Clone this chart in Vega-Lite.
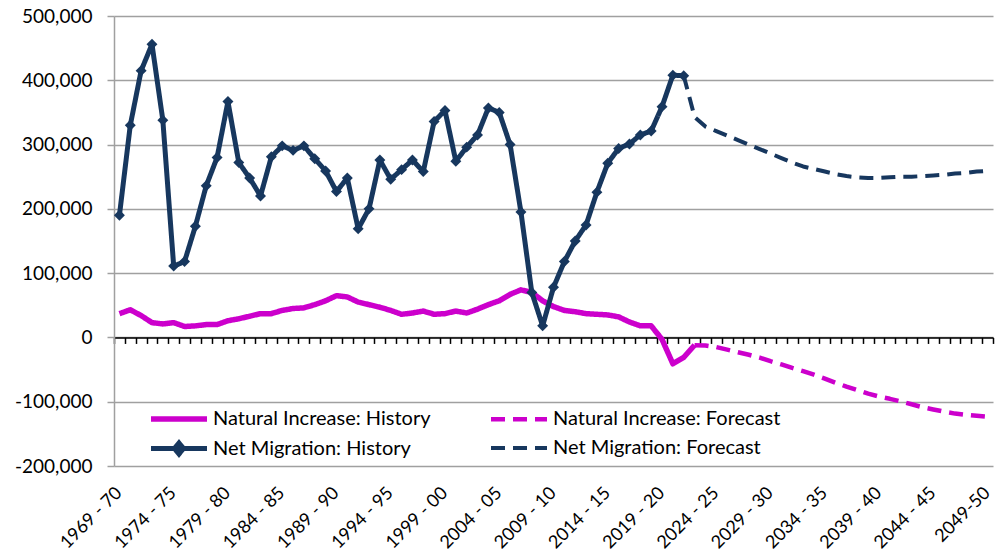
{
  "$schema": "https://vega.github.io/schema/vega-lite/v6.json",
  "autosize": {"type": "none"},
  "width": 879,
  "height": 450,
  "padding": {"left": 114, "top": 16, "right": 10, "bottom": 88},
  "background": "white",
  "config": {
    "font": "Lato",
    "view": {"stroke": null},
    "axisY": {
      "labelFont": "Lato", "labelFontSize": 19, "labelColor": "#000000",
      "labelPadding": 15, "tickSize": 7, "tickColor": "#A0A0A0", "tickWidth": 1.5,
      "domainColor": "#A0A0A0", "domainWidth": 1.5,
      "gridColor": "#A0A0A0", "gridWidth": 1.5
    }
  },
  "data": {"values": [
    {"p":"1969 - 70","s":"Natural Increase: History","v":37000},
    {"p":"1970 - 71","s":"Natural Increase: History","v":43000},
    {"p":"1971 - 72","s":"Natural Increase: History","v":34000},
    {"p":"1972 - 73","s":"Natural Increase: History","v":23000},
    {"p":"1973 - 74","s":"Natural Increase: History","v":21000},
    {"p":"1974 - 75","s":"Natural Increase: History","v":23000},
    {"p":"1975 - 76","s":"Natural Increase: History","v":17000},
    {"p":"1976 - 77","s":"Natural Increase: History","v":18000},
    {"p":"1977 - 78","s":"Natural Increase: History","v":20000},
    {"p":"1978 - 79","s":"Natural Increase: History","v":20000},
    {"p":"1979 - 80","s":"Natural Increase: History","v":26000},
    {"p":"1980 - 81","s":"Natural Increase: History","v":29000},
    {"p":"1981 - 82","s":"Natural Increase: History","v":33000},
    {"p":"1982 - 83","s":"Natural Increase: History","v":37000},
    {"p":"1983 - 84","s":"Natural Increase: History","v":37000},
    {"p":"1984 - 85","s":"Natural Increase: History","v":42000},
    {"p":"1985 - 86","s":"Natural Increase: History","v":45000},
    {"p":"1986 - 87","s":"Natural Increase: History","v":46000},
    {"p":"1987 - 88","s":"Natural Increase: History","v":51000},
    {"p":"1988 - 89","s":"Natural Increase: History","v":57000},
    {"p":"1989 - 90","s":"Natural Increase: History","v":65000},
    {"p":"1990 - 91","s":"Natural Increase: History","v":63000},
    {"p":"1991 - 92","s":"Natural Increase: History","v":55000},
    {"p":"1992 - 93","s":"Natural Increase: History","v":51000},
    {"p":"1993 - 94","s":"Natural Increase: History","v":47000},
    {"p":"1994 - 95","s":"Natural Increase: History","v":42000},
    {"p":"1995 - 96","s":"Natural Increase: History","v":36000},
    {"p":"1996 - 97","s":"Natural Increase: History","v":38000},
    {"p":"1997 - 98","s":"Natural Increase: History","v":41000},
    {"p":"1998 - 99","s":"Natural Increase: History","v":36000},
    {"p":"1999 - 00","s":"Natural Increase: History","v":37000},
    {"p":"2000 - 01","s":"Natural Increase: History","v":41000},
    {"p":"2001 - 02","s":"Natural Increase: History","v":38000},
    {"p":"2002 - 03","s":"Natural Increase: History","v":44000},
    {"p":"2003 - 04","s":"Natural Increase: History","v":51000},
    {"p":"2004 - 05","s":"Natural Increase: History","v":57000},
    {"p":"2005 - 06","s":"Natural Increase: History","v":67000},
    {"p":"2006 - 07","s":"Natural Increase: History","v":74000},
    {"p":"2007 - 08","s":"Natural Increase: History","v":70000},
    {"p":"2008 - 09","s":"Natural Increase: History","v":57000},
    {"p":"2009 - 10","s":"Natural Increase: History","v":48000},
    {"p":"2010 - 11","s":"Natural Increase: History","v":42000},
    {"p":"2011 - 12","s":"Natural Increase: History","v":40000},
    {"p":"2012 - 13","s":"Natural Increase: History","v":37000},
    {"p":"2013 - 14","s":"Natural Increase: History","v":36000},
    {"p":"2014 - 15","s":"Natural Increase: History","v":35000},
    {"p":"2015 - 16","s":"Natural Increase: History","v":32000},
    {"p":"2016 - 17","s":"Natural Increase: History","v":24000},
    {"p":"2017 - 18","s":"Natural Increase: History","v":18000},
    {"p":"2018 - 19","s":"Natural Increase: History","v":18000},
    {"p":"2019 - 20","s":"Natural Increase: History","v":-3000},
    {"p":"2020 - 21","s":"Natural Increase: History","v":-41000},
    {"p":"2021 - 22","s":"Natural Increase: History","v":-31000},
    {"p":"2022 - 23","s":"Natural Increase: History","v":-12000},
    {"p":"2022 - 23","s":"Natural Increase: Forecast","v":-12000},
    {"p":"2023 - 24","s":"Natural Increase: Forecast","v":-12500},
    {"p":"2024 - 25","s":"Natural Increase: Forecast","v":-15000},
    {"p":"2025 - 26","s":"Natural Increase: Forecast","v":-19000},
    {"p":"2026 - 27","s":"Natural Increase: Forecast","v":-23000},
    {"p":"2027 - 28","s":"Natural Increase: Forecast","v":-27000},
    {"p":"2028 - 29","s":"Natural Increase: Forecast","v":-31500},
    {"p":"2029 - 30","s":"Natural Increase: Forecast","v":-37000},
    {"p":"2030 - 31","s":"Natural Increase: Forecast","v":-42000},
    {"p":"2031 - 32","s":"Natural Increase: Forecast","v":-47500},
    {"p":"2032 - 33","s":"Natural Increase: Forecast","v":-52500},
    {"p":"2033 - 34","s":"Natural Increase: Forecast","v":-58000},
    {"p":"2034 - 35","s":"Natural Increase: Forecast","v":-64000},
    {"p":"2035 - 36","s":"Natural Increase: Forecast","v":-70500},
    {"p":"2036 - 37","s":"Natural Increase: Forecast","v":-76500},
    {"p":"2037 - 38","s":"Natural Increase: Forecast","v":-82000},
    {"p":"2038 - 39","s":"Natural Increase: Forecast","v":-87500},
    {"p":"2039 - 40","s":"Natural Increase: Forecast","v":-92000},
    {"p":"2040 - 41","s":"Natural Increase: Forecast","v":-95500},
    {"p":"2041 - 42","s":"Natural Increase: Forecast","v":-99500},
    {"p":"2042 - 43","s":"Natural Increase: Forecast","v":-104000},
    {"p":"2043 - 44","s":"Natural Increase: Forecast","v":-108500},
    {"p":"2044 - 45","s":"Natural Increase: Forecast","v":-112000},
    {"p":"2045 - 46","s":"Natural Increase: Forecast","v":-115500},
    {"p":"2046 - 47","s":"Natural Increase: Forecast","v":-118500},
    {"p":"2047 - 48","s":"Natural Increase: Forecast","v":-120500},
    {"p":"2048 - 49","s":"Natural Increase: Forecast","v":-122000},
    {"p":"2049-50","s":"Natural Increase: Forecast","v":-123500},
    {"p":"1969 - 70","s":"Net Migration: History","v":190000},
    {"p":"1970 - 71","s":"Net Migration: History","v":330000},
    {"p":"1971 - 72","s":"Net Migration: History","v":415000},
    {"p":"1972 - 73","s":"Net Migration: History","v":456000},
    {"p":"1973 - 74","s":"Net Migration: History","v":338000},
    {"p":"1974 - 75","s":"Net Migration: History","v":111000},
    {"p":"1975 - 76","s":"Net Migration: History","v":118000},
    {"p":"1976 - 77","s":"Net Migration: History","v":173000},
    {"p":"1977 - 78","s":"Net Migration: History","v":236000},
    {"p":"1978 - 79","s":"Net Migration: History","v":280000},
    {"p":"1979 - 80","s":"Net Migration: History","v":367000},
    {"p":"1980 - 81","s":"Net Migration: History","v":272000},
    {"p":"1981 - 82","s":"Net Migration: History","v":248000},
    {"p":"1982 - 83","s":"Net Migration: History","v":220000},
    {"p":"1983 - 84","s":"Net Migration: History","v":281000},
    {"p":"1984 - 85","s":"Net Migration: History","v":298000},
    {"p":"1985 - 86","s":"Net Migration: History","v":291000},
    {"p":"1986 - 87","s":"Net Migration: History","v":298000},
    {"p":"1987 - 88","s":"Net Migration: History","v":278000},
    {"p":"1988 - 89","s":"Net Migration: History","v":259000},
    {"p":"1989 - 90","s":"Net Migration: History","v":227000},
    {"p":"1990 - 91","s":"Net Migration: History","v":248000},
    {"p":"1991 - 92","s":"Net Migration: History","v":169000},
    {"p":"1992 - 93","s":"Net Migration: History","v":200000},
    {"p":"1993 - 94","s":"Net Migration: History","v":276000},
    {"p":"1994 - 95","s":"Net Migration: History","v":246000},
    {"p":"1995 - 96","s":"Net Migration: History","v":261000},
    {"p":"1996 - 97","s":"Net Migration: History","v":276000},
    {"p":"1997 - 98","s":"Net Migration: History","v":258000},
    {"p":"1998 - 99","s":"Net Migration: History","v":336000},
    {"p":"1999 - 00","s":"Net Migration: History","v":353000},
    {"p":"2000 - 01","s":"Net Migration: History","v":274000},
    {"p":"2001 - 02","s":"Net Migration: History","v":296000},
    {"p":"2002 - 03","s":"Net Migration: History","v":315000},
    {"p":"2003 - 04","s":"Net Migration: History","v":357000},
    {"p":"2004 - 05","s":"Net Migration: History","v":350000},
    {"p":"2005 - 06","s":"Net Migration: History","v":300000},
    {"p":"2006 - 07","s":"Net Migration: History","v":195000},
    {"p":"2007 - 08","s":"Net Migration: History","v":70000},
    {"p":"2008 - 09","s":"Net Migration: History","v":18000},
    {"p":"2009 - 10","s":"Net Migration: History","v":78000},
    {"p":"2010 - 11","s":"Net Migration: History","v":118000},
    {"p":"2011 - 12","s":"Net Migration: History","v":150000},
    {"p":"2012 - 13","s":"Net Migration: History","v":175000},
    {"p":"2013 - 14","s":"Net Migration: History","v":226000},
    {"p":"2014 - 15","s":"Net Migration: History","v":271000},
    {"p":"2015 - 16","s":"Net Migration: History","v":294000},
    {"p":"2016 - 17","s":"Net Migration: History","v":301000},
    {"p":"2017 - 18","s":"Net Migration: History","v":315000},
    {"p":"2018 - 19","s":"Net Migration: History","v":321000},
    {"p":"2019 - 20","s":"Net Migration: History","v":359000},
    {"p":"2020 - 21","s":"Net Migration: History","v":408000},
    {"p":"2021 - 22","s":"Net Migration: History","v":407000},
    {"p":"2021 - 22","s":"Net Migration: Forecast","v":407000},
    {"p":"2022 - 23","s":"Net Migration: Forecast","v":343000},
    {"p":"2023 - 24","s":"Net Migration: Forecast","v":328000},
    {"p":"2024 - 25","s":"Net Migration: Forecast","v":321000},
    {"p":"2025 - 26","s":"Net Migration: Forecast","v":314000},
    {"p":"2026 - 27","s":"Net Migration: Forecast","v":307000},
    {"p":"2027 - 28","s":"Net Migration: Forecast","v":300000},
    {"p":"2028 - 29","s":"Net Migration: Forecast","v":293000},
    {"p":"2029 - 30","s":"Net Migration: Forecast","v":286000},
    {"p":"2030 - 31","s":"Net Migration: Forecast","v":279000},
    {"p":"2031 - 32","s":"Net Migration: Forecast","v":272000},
    {"p":"2032 - 33","s":"Net Migration: Forecast","v":266000},
    {"p":"2033 - 34","s":"Net Migration: Forecast","v":262000},
    {"p":"2034 - 35","s":"Net Migration: Forecast","v":258000},
    {"p":"2035 - 36","s":"Net Migration: Forecast","v":254000},
    {"p":"2036 - 37","s":"Net Migration: Forecast","v":251000},
    {"p":"2037 - 38","s":"Net Migration: Forecast","v":249000},
    {"p":"2038 - 39","s":"Net Migration: Forecast","v":248000},
    {"p":"2039 - 40","s":"Net Migration: Forecast","v":248000},
    {"p":"2040 - 41","s":"Net Migration: Forecast","v":249000},
    {"p":"2041 - 42","s":"Net Migration: Forecast","v":250000},
    {"p":"2042 - 43","s":"Net Migration: Forecast","v":250000},
    {"p":"2043 - 44","s":"Net Migration: Forecast","v":251000},
    {"p":"2044 - 45","s":"Net Migration: Forecast","v":252000},
    {"p":"2045 - 46","s":"Net Migration: Forecast","v":253000},
    {"p":"2046 - 47","s":"Net Migration: Forecast","v":255000},
    {"p":"2047 - 48","s":"Net Migration: Forecast","v":256000},
    {"p":"2048 - 49","s":"Net Migration: Forecast","v":258000},
    {"p":"2049-50","s":"Net Migration: Forecast","v":259000}
  ]},
  "layer": [
    {
      "mark": {"type": "line", "strokeCap": "butt", "strokeJoin": "round"},
      "encoding": {
        "x": {
          "field": "p", "type": "ordinal",
          "scale": {"type": "band", "paddingInner": 0, "paddingOuter": 0},
          "axis": {
            "orient": "bottom", "title": null, "domain": false, "ticks": false, "grid": false,
            "values": ["1969 - 70","1974 - 75","1979 - 80","1984 - 85","1989 - 90","1994 - 95","1999 - 00","2004 - 05","2009 - 10","2014 - 15","2019 - 20","2024 - 25","2029 - 30","2034 - 35","2039 - 40","2044 - 45","2049-50"],
            "labelAngle": -45, "labelAlign": "right", "labelBaseline": "middle",
            "labelFont": "Lato", "labelFontSize": 18, "labelColor": "#000000",
            "labelPadding": 24, "labelOverlap": false, "labelBound": false
          }
        },
        "y": {
          "field": "v", "type": "quantitative",
          "scale": {"domain": [-200000, 500000], "nice": false, "zero": false},
          "axis": {"title": null, "values": [-200000,-100000,0,100000,200000,300000,400000,500000],
            "labelExpr": "replace(format(datum.value, ','), '\u2212', '-')"}
        },
        "color": {
          "field": "s", "type": "nominal",
          "scale": {"domain": ["Natural Increase: History","Net Migration: History","Natural Increase: Forecast","Net Migration: Forecast"],
                    "range": ["#CC00CC","#17375E","#CC00CC","#17375E"]},
          "legend": {
            "title": null, "orient": "none", "legendX": 34, "legendY": 390,
            "columns": 2, "columnPadding": 51, "rowPadding": 3, "padding": 0,
            "symbolType": "M-1,0H4.6", "symbolSize": 400, "symbolStrokeWidth": 5,
            "labelFont": "Lato", "labelFontSize": 20, "labelColor": "#000000", "labelOffset": 39,
            "labelLimit": 400,
            "encode": {"symbols": {"update": {"shape": [
              {"test": "datum.label === 'Net Migration: History'", "value": "M-1,0H4.6M1.8,-0.55L2.25,0L1.8,0.55L1.35,0Z"},
              {"value": "M-1,0H4.6"}
            ]}}}
          }
        },
        "strokeDash": {
          "field": "s", "type": "nominal",
          "scale": {"domain": ["Natural Increase: History","Net Migration: History","Natural Increase: Forecast","Net Migration: Forecast"],
                    "range": [[1,0],[1,0],[14,8],[14,8]]},
          "legend": {
            "title": null, "orient": "none", "legendX": 34, "legendY": 390,
            "columns": 2, "columnPadding": 51, "rowPadding": 3, "padding": 0,
            "symbolType": "M-1,0H4.6", "symbolSize": 400, "symbolStrokeWidth": 5,
            "labelFont": "Lato", "labelFontSize": 20, "labelColor": "#000000", "labelOffset": 39,
            "labelLimit": 400,
            "encode": {"symbols": {"update": {"shape": [
              {"test": "datum.label === 'Net Migration: History'", "value": "M-1,0H4.6M1.8,-0.55L2.25,0L1.8,0.55L1.35,0Z"},
              {"value": "M-1,0H4.6"}
            ]}}}
          }
        },
        "strokeWidth": {
          "field": "s", "type": "nominal",
          "scale": {"domain": ["Natural Increase: History","Net Migration: History","Natural Increase: Forecast","Net Migration: Forecast"],
                    "range": [5.5, 4, 5, 4.5]},
          "legend": null
        }
      }
    },
    {
      "transform": [{"filter": "datum.s == 'Net Migration: History'"}],
      "mark": {"type": "point", "shape": "diamond", "filled": true, "opacity": 1, "size": 120, "color": "#17375E"},
      "encoding": {
        "x": {
          "field": "p", "type": "ordinal",
          "axis": {
            "orient": "bottom", "offset": -128.57, "title": null, "labels": false, "grid": false,
            "domain": true, "domainColor": "#000000", "domainWidth": 1.5,
            "ticks": true, "tickColor": "#000000", "tickWidth": 1.5, "tickSize": 6, "tickBand": "extent"
          }
        },
        "y": {"field": "v", "type": "quantitative"}
      }
    }
  ],
  "resolve": {"axis": {"x": "independent"}}
}
